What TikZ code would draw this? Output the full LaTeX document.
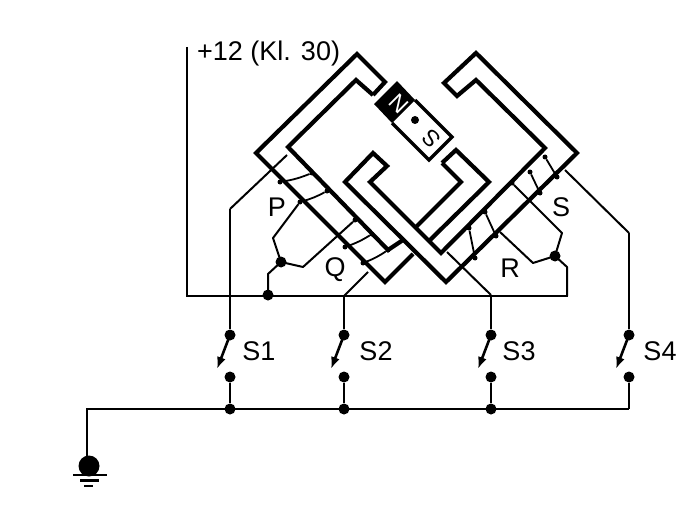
\documentclass[tikz,border=0pt]{standalone}
\usepackage{fontspec}
\setmainfont{Liberation Sans}
\usetikzlibrary{arrows.meta}
\tikzset{
  coil/.style={line width=4.2pt,line join=miter,line cap=butt},
  wire/.style={line width=2pt,line join=round},
  fine/.style={line width=1.8pt,line join=round},
  bus/.style={line width=2.8pt,line join=miter},
  bigdot/.style={circle,fill=black,inner sep=0pt,minimum size=11pt},
  smalldot/.style={circle,fill=black,inner sep=0pt,minimum size=5pt},
  swdot/.style={circle,fill=black,inner sep=0pt,minimum size=11pt},
  lab/.style={font=\fontsize{27}{27}\selectfont,anchor=base,inner sep=0pt},
  swarrow/.style={line width=2.6pt,-{Latex[length=12pt,width=9pt]}}
}
\begin{document}
\begin{tikzpicture}[x=1pt,y=-1pt]
\useasboundingbox (0,0) rectangle (688,508);
% coils
\draw[coil] (373,95) -- (385,82) -- (357,54) -- (256,153) -- (385,282) -- (413,254);
\draw[coil] (373,95) -- (356,80) -- (288,147) -- (388,250) -- (403,240);
\draw[coil] (457,96) -- (444,83) -- (476,53) -- (577,153) -- (446,282) -- (345,182) -- (373,153) -- (387,166) -- (370,182) -- (441,253) -- (545,148) -- (476,80) -- cycle;
\draw[coil] (442,163) -- (456,150) -- (489,182) -- (429,241);
\draw[coil] (442,163) -- (461,182) -- (416,227);
% magnet
\fill (374,104) -- (397,81) -- (415,100) -- (392,123) -- cycle;
\draw[line width=3.4pt,line join=miter] (415,100) -- (452,137) -- (429,160) -- (392,123);
\node[font=\fontsize{23}{23}\selectfont,text=white,rotate=-45,inner sep=0pt] (north) at (399,104) {N};
\node[font=\fontsize{23}{23}\selectfont,rotate=135,inner sep=0pt] (south) at (431,139) {S};
\node[circle,fill=black,inner sep=0pt,minimum size=8pt] (pivot) at (415,120) {};
% junctions
\node[smalldot] (p1) at (312,173) {};
\node[smalldot] (p2) at (280,182) {};
\node[smalldot] (p3) at (327,191) {};
\node[smalldot] (p4) at (300,202) {};
\node[smalldot] (q1) at (355,220) {};
\node[smalldot] (q2) at (372,234) {};
\node[smalldot] (q3) at (345,247) {};
\node[smalldot] (q4) at (388,250) {};
\node[smalldot] (q5) at (363,263) {};
\node[bigdot] (pq) at (281,262) {};
\node[bigdot] (pqb) at (268,295) {};
\node[bigdot] (rs) at (555,256) {};
\node[smalldot] (s1) at (545,157) {};
\node[smalldot] (s2) at (557,177) {};
\node[smalldot] (s3) at (530,172) {};
\node[smalldot] (s4) at (540,193) {};
\node[smalldot] (r1) at (512,183) {};
\node[smalldot] (r2) at (485,212) {};
\node[smalldot] (r3) at (496,236) {};
\node[smalldot] (r4) at (469,228) {};
\node[smalldot] (r5) at (475,258) {};
\coordinate (pstart) at (287,155);
\coordinate (pbend) at (230,209);
\coordinate (qend) at (368,272);
\coordinate (qbase) at (344,296);
\coordinate (rstart) at (447,252);
\coordinate (rbase) at (491,295);
\coordinate (sstart) at (565,170);
\coordinate (sbend) at (629,233);
% windings
\draw[fine] (p1) to[bend left=6] (p2);
\draw[fine] (p3) to[bend left=6] (p4);
\draw[fine] (q2) to[bend left=6] (q3);
\draw[fine] (q4) to[bend left=6] (q5);
\draw[fine] (s1) -- (s2);
\draw[fine] (s3) -- (s4);
\draw[fine] (r2) -- (r3);
\draw[fine] (r4) -- (r5);
% leads
\draw[wire] (p4) -- (273,238) -- (pq.center) -- (303,267) -- (q1);
\draw[wire] (pq.center) -- (268,274) -- (pqb.center);
\draw[wire] (r1) -- (562,233) -- (rs.center) -- (533,263) -- (500,232);
\draw[wire] (rs.center) -- (567,267) -- (567,296);
% supply
\coordinate (vtop) at (187,47);
\coordinate (vbot) at (187,296);
\coordinate (hend) at (568,296);
\draw[bus] (vtop) -- (vbot) -- (hend);
\node[lab,anchor=base west] (supply) at (197,61) {+12 (Kl. 30)};
% switches
\node[swdot] (a1) at (230,335) {};
\node[swdot] (a2) at (344,335) {};
\node[swdot] (a3) at (491,335) {};
\node[swdot] (a4) at (629,335) {};
\node[swdot] (b1) at (230,377) {};
\node[swdot] (b2) at (344,377) {};
\node[swdot] (b3) at (491,377) {};
\node[swdot] (b4) at (629,377) {};
\node[swdot] (c1) at (230,409) {};
\node[swdot] (c2) at (344,409) {};
\node[swdot] (c3) at (491,409) {};
\coordinate (c4) at (629,409);
\coordinate (gtop) at (87,409);
\coordinate (gbot) at (87,460);
\draw[wire] (pstart) -- (pbend);
\draw[bus] (pbend) -- (a1);
\draw[wire] (qend) -- (qbase);
\draw[bus] (qbase) -- (a2);
\draw[wire] (rstart) -- (rbase);
\draw[bus] (rbase) -- (a3);
\draw[wire] (sstart) -- (sbend);
\draw[bus] (sbend) -- (a4);
\draw[swarrow] (a1.center) -- +(-13,34);
\draw[swarrow] (a2.center) -- +(-13,34);
\draw[swarrow] (a3.center) -- +(-13,34);
\draw[swarrow] (a4.center) -- +(-13,34);
\draw[bus] (b1) -- (c1);
\draw[bus] (b2) -- (c2);
\draw[bus] (b3) -- (c3);
\draw[bus] (b4) -- (c4);
\draw[bus] (gtop) -- (c4);
% ground
\node[circle,fill=black,inner sep=0pt,minimum size=21pt] (gnd) at (89,466) {};
\draw[bus] (gbot) -- (gtop) -- (c1);
\draw[line width=2.4pt] (73,475) -- (107,475);
\draw[line width=2.4pt] (80,480.5) -- (99,480.5);
\draw[line width=2.4pt] (84,486) -- (93,486);
% labels
\node[lab] (lp) at (277,216) {P};
\node[lab] (lq) at (335,276) {Q};
\node[lab] (lr) at (510,277) {R};
\node[lab] (ls) at (561,216) {S};
\node[lab] (l1) at (259,360) {S1};
\node[lab] (l2) at (376,360) {S2};
\node[lab] (l3) at (519,360) {S3};
\node[lab] (l4) at (660,360) {S4};
\end{tikzpicture}
\end{document}
